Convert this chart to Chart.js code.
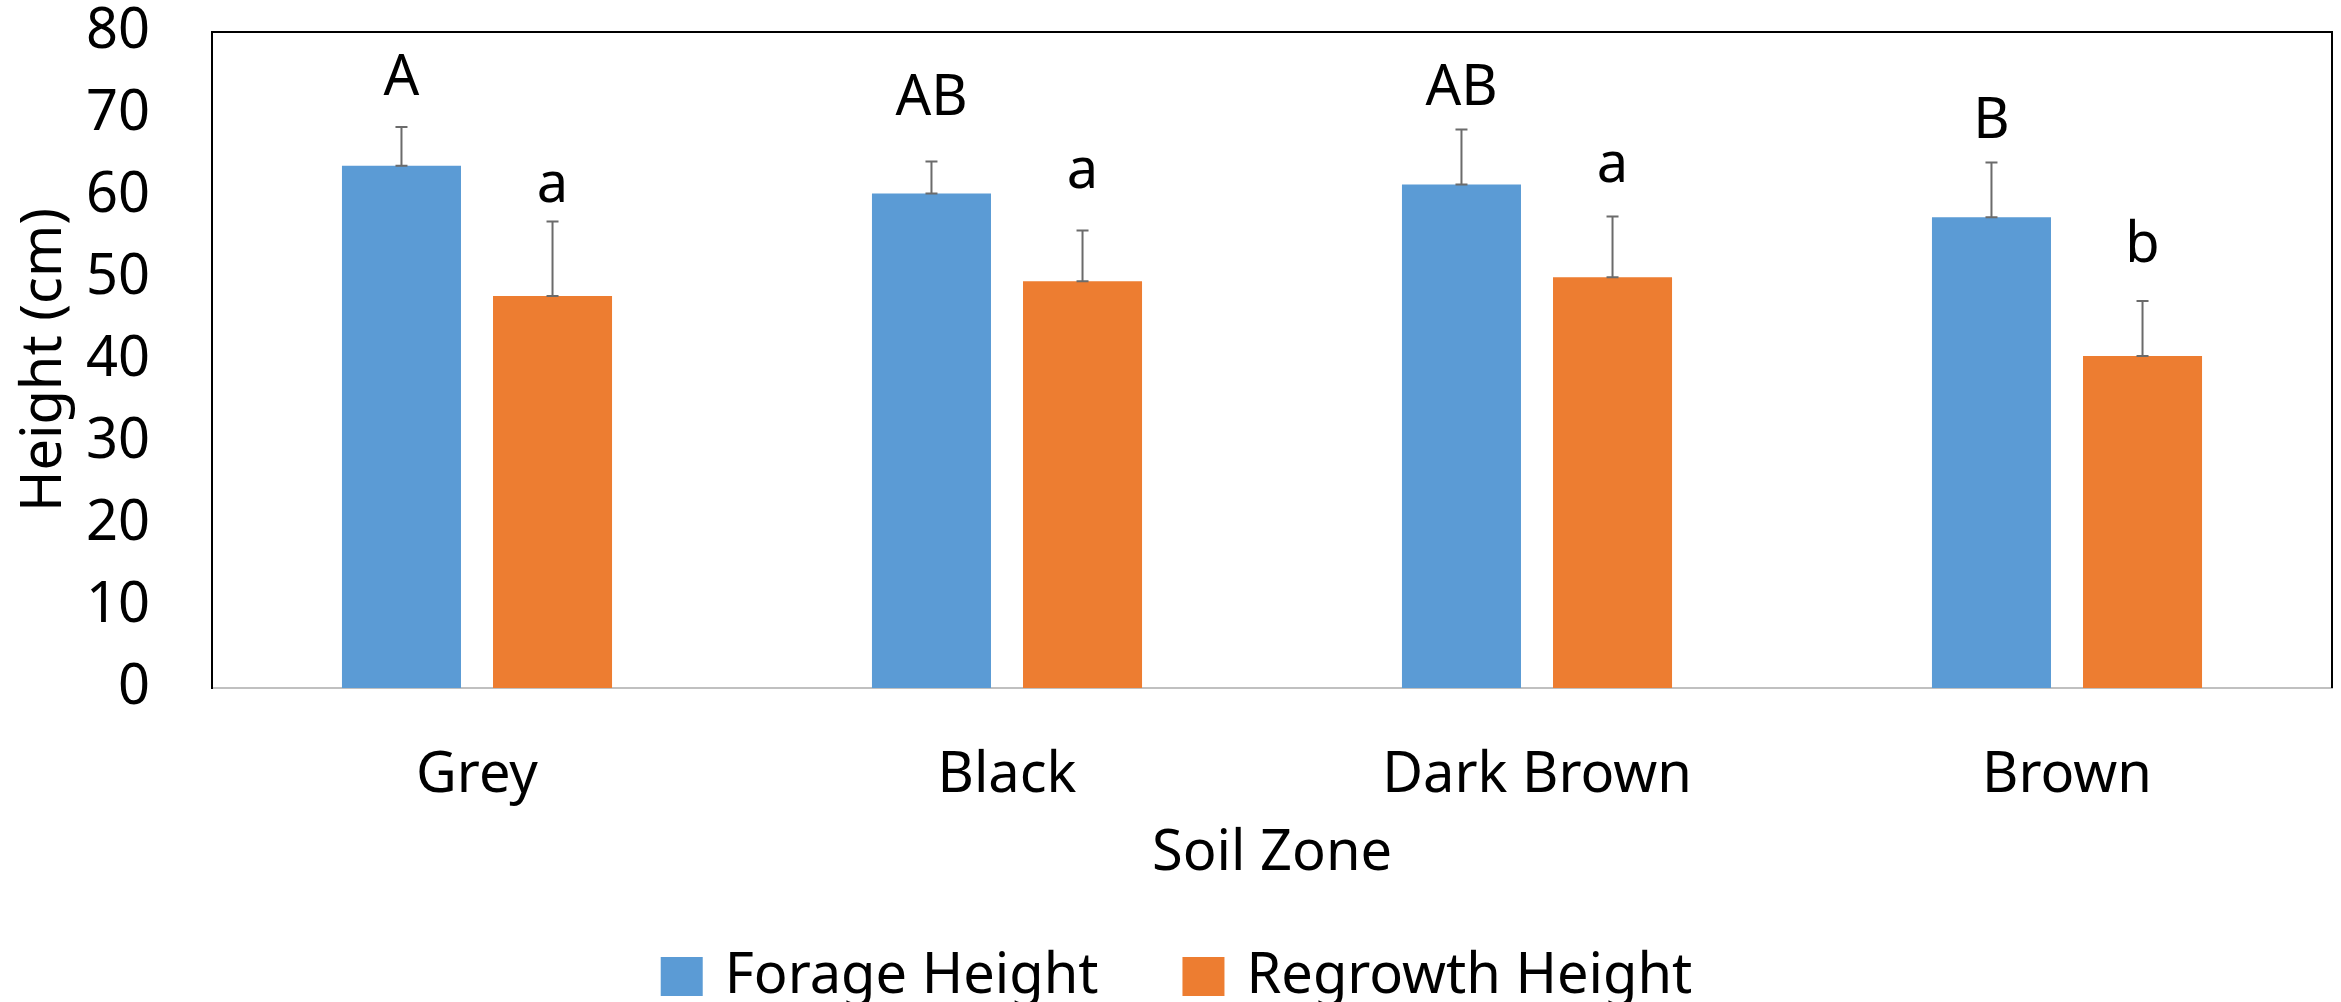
<!DOCTYPE html>
<html>
<head>
<meta charset="utf-8">
<script src="https://cdn.jsdelivr.net/npm/chart.js@4"></script>
<style>
  html, body { margin: 0; padding: 0; background: #ffffff; }
  #wrap { width: 2341px; height: 1002px; }
</style>
</head>
<body>
<div id="wrap"><canvas id="c" width="2341" height="1002"></canvas></div>
<script>
// ---- data ----
const categories = ['Grey', 'Black', 'Dark Brown', 'Brown'];
const seriesNames = ['Forage Height', 'Regrowth Height'];
const forageHeight = [63.7, 60.3, 61.4, 57.4];
const regrowthHeight = [47.8, 49.6, 50.1, 40.5];
const forageError = [4.7, 3.9, 6.7, 6.7];
const regrowthError = [9.1, 6.2, 7.4, 6.7];
const forageLetters = ['A', 'AB', 'AB', 'B'];
const regrowthLetters = ['a', 'a', 'a', 'b'];
const forageLetterLevel = [72.3, 69.9, 71.1, 67.1];
const regrowthLetterLevel = [59.3, 61.0, 61.7, 52.0];
const yTicks = [0, 10, 20, 30, 40, 50, 60, 70, 80];

const FONT = '"Noto Sans", "Open Sans", sans-serif';
const COLORS = ['#5B9BD5', '#ED7D31'];

const errorsBySeries = [forageError, regrowthError];
const lettersBySeries = [forageLetters, regrowthLetters];
const letterLevelBySeries = [forageLetterLevel, regrowthLetterLevel];

const annotatePlugin = {
  id: 'annotate',
  afterDatasetsDraw(chart) {
    const ctx = chart.ctx;
    const y = chart.scales.y;
    ctx.save();
    chart.data.datasets.forEach((ds, di) => {
      const meta = chart.getDatasetMeta(di);
      meta.data.forEach((bar, i) => {
        const v = ds.data[i];
        const e = errorsBySeries[di][i];
        const yTop = y.getPixelForValue(v + e);
        const yBase = y.getPixelForValue(v);
        ctx.strokeStyle = '#6b6b6b';
        ctx.lineWidth = 2;
        ctx.beginPath();
        ctx.moveTo(bar.x, yBase);
        ctx.lineTo(bar.x, yTop);
        ctx.moveTo(bar.x - 6, yTop);
        ctx.lineTo(bar.x + 6, yTop);
        ctx.moveTo(bar.x - 6, yBase);
        ctx.lineTo(bar.x + 6, yBase);
        ctx.stroke();
        ctx.fillStyle = '#000000';
        ctx.font = '56px ' + FONT;
        ctx.textAlign = 'center';
        ctx.textBaseline = 'alphabetic';
        ctx.fillText(lettersBySeries[di][i], bar.x, y.getPixelForValue(letterLevelBySeries[di][i]));
      });
    });
    ctx.restore();
  },
  afterDraw(chart) {
    const ctx = chart.ctx;
    const a = chart.chartArea;
    ctx.save();
    // top and right frame lines
    ctx.strokeStyle = '#000000';
    ctx.lineWidth = 2;
    ctx.beginPath();
    ctx.moveTo(a.left, a.top);
    ctx.lineTo(a.right, a.top);
    ctx.lineTo(a.right, a.bottom);
    ctx.stroke();
    // legend
    ctx.font = '56px ' + FONT;
    ctx.textBaseline = 'middle';
    ctx.textAlign = 'left';
    const boxW = 42, boxH = 39, boxGap = 22, itemGap = 84;
    const widths = seriesNames.map(n => ctx.measureText(n).width);
    let total = 0;
    widths.forEach((w, i) => { total += boxW + boxGap + w + (i < widths.length - 1 ? itemGap : 0); });
    let x = chart.width / 2 - total / 2 + 6;
    const cy = 976.5;
    seriesNames.forEach((n, i) => {
      ctx.fillStyle = COLORS[i];
      ctx.fillRect(x, cy - boxH / 2, boxW, boxH);
      ctx.fillStyle = '#000000';
      ctx.fillText(n, x + boxW + boxGap, cy + 1);
      x += boxW + boxGap + widths[i] + itemGap;
    });
    ctx.restore();
  }
};

new Chart(document.getElementById('c'), {
  type: 'bar',
  data: {
    labels: categories,
    datasets: [
      { label: seriesNames[0], data: forageHeight, backgroundColor: COLORS[0], borderWidth: 0,
        categoryPercentage: 0.57, barPercentage: 0.788 },
      { label: seriesNames[1], data: regrowthHeight, backgroundColor: COLORS[1], borderWidth: 0,
        categoryPercentage: 0.57, barPercentage: 0.788 }
    ]
  },
  options: {
    responsive: false,
    animation: false,
    devicePixelRatio: 1,
    layout: { padding: { left: 0, top: 32, right: 9, bottom: 0 } },
    plugins: {
      legend: { display: false },
      tooltip: { enabled: false }
    },
    scales: {
      x: {
        grid: { display: false, drawTicks: false },
        border: { display: true, color: '#c0c0c0', width: 2 },
        ticks: { color: '#000000', font: { family: FONT, size: 56 }, padding: 54 },
        title: { display: true, text: 'Soil Zone', color: '#000000',
                 font: { family: FONT, size: 56 }, padding: { top: 0, bottom: 114 } },
        afterFit(scale) { scale.height = 314; scale.paddingLeft = 0; scale.paddingRight = 0; }
      },
      y: {
        min: 0, max: 80,
        afterBuildTicks(scale) { scale.ticks = yTicks.map(v => ({ value: v })); },
        grid: { display: false, drawTicks: false },
        border: { display: true, color: '#000000', width: 2 },
        ticks: { color: '#000000', font: { family: FONT, size: 56 }, padding: 62 },
        title: { display: true, text: 'Height (cm)', color: '#000000',
                 font: { family: FONT, size: 56 }, padding: { top: 11, bottom: 0 } },
        afterFit(scale) { scale.width = 212; scale.paddingTop = 0; scale.paddingBottom = 0; }
      }
    }
  },
  plugins: [annotatePlugin]
});
</script>
</body>
</html>
